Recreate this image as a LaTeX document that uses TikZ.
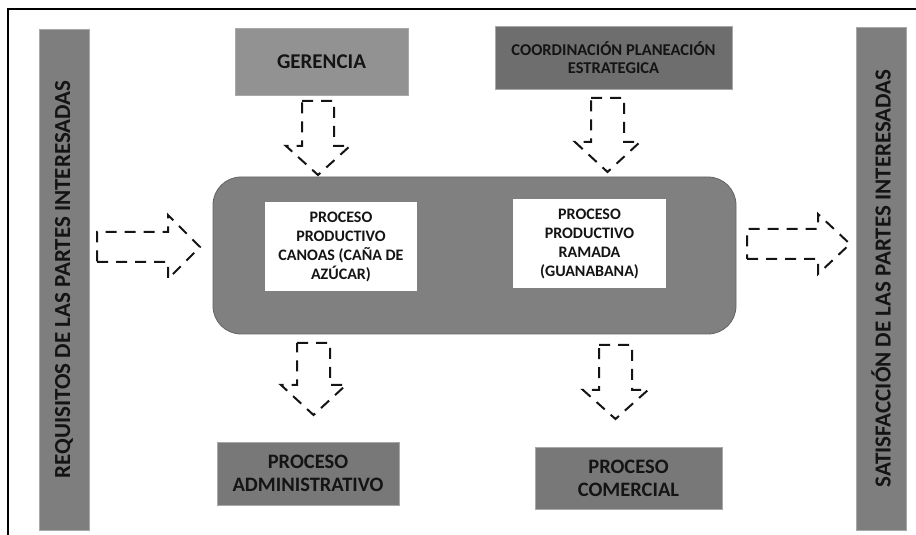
\documentclass[tikz,border=0pt]{standalone}
\usepackage{fontspec}
\setmainfont{Carlito}[BoldFont={Carlito Bold}]
\definecolor{barfill}{RGB}{126,126,126}
\definecolor{gerfill}{RGB}{146,146,146}
\definecolor{coordfill}{RGB}{110,110,110}
\definecolor{corefill}{RGB}{128,128,128}
\definecolor{lowfill}{RGB}{120,120,120}
\definecolor{edge}{RGB}{168,168,168}
\definecolor{coreedge}{RGB}{100,100,100}
\definecolor{txt}{RGB}{20,20,20}
\begin{document}
\begin{tikzpicture}[x=1pt,y=1pt,
  bar/.style={draw=edge, fill=barfill, line width=0.8pt, inner sep=0pt, rotate=90,
    minimum height=50pt, text=txt, font=\bfseries\fontsize{23}{23}\selectfont},
  gbox/.style={draw=edge, line width=0.8pt, inner sep=0pt, text=txt, align=center},
  wbox/.style={fill=white, draw=none, inner sep=0pt, text=txt, align=center,
    minimum width=152pt, minimum height=89pt, font=\bfseries\fontsize{16}{19}\selectfont},
  lowbox/.style={gbox, fill=lowfill, font=\bfseries\fontsize{20.5}{23}\selectfont},
  blockarrow/.style={draw=txt, line width=2pt, dash pattern=on 11pt off 8pt, line join=miter}]
\useasboundingbox (0,0) rectangle (916,535);
% frame
\draw[line width=1.5pt, black] (8,-10) -- (8,526);
\draw[line width=2pt, black] (7.25,526) -- (930,526);
% side bars
\node[bar, minimum width=501pt] (req) at (64,255.5) {REQUISITOS DE LAS PARTES INTERESADAS};
\node[bar, minimum width=503pt] (sat) at (881,256.5) {SATISFACCIÓN DE LAS PARTES INTERESADAS};
% top boxes
\node[gbox, fill=gerfill, minimum width=173pt, minimum height=67pt,
  font=\bfseries\fontsize{21}{24}\selectfont] (ger) at (321.5,473.5) {GERENCIA};
\node[gbox, fill=coordfill, minimum width=237pt, minimum height=63pt,
  font=\bfseries\fontsize{16.5}{18}\selectfont] (coord) at (613.5,477.5) {COORDINACIÓN PLANEACIÓN\\ESTRATEGICA};
% core
\node[draw=coreedge, fill=corefill, line width=0.8pt, rounded corners=28pt,
  minimum width=523pt, minimum height=157pt, inner sep=0pt] (core) at (474.5,279.5) {};
\node[wbox] (canoas) at (341,288.5) {PROCESO\\PRODUCTIVO\\CANOAS (CAÑA DE\\AZÚCAR)};
\node[wbox, minimum width=153pt] (ramada) at (589.5,291.5) {PROCESO\\PRODUCTIVO\\RAMADA\\(GUANABANA)};
% bottom boxes
\node[lowbox, minimum width=182pt, minimum height=63pt] (adm) at (308,61.5) {PROCESO\\ADMINISTRATIVO};
\node[lowbox, minimum width=187pt, minimum height=62pt] (com) at (628.5,57) {PROCESO\\COMERCIAL};
% block arrows
\draw[blockarrow] (97,273) -- (168,273) -- (168,256) -- (200,288) -- (168,320) -- (168,303) -- (97,303) -- cycle;
\draw[blockarrow] (747,276) -- (818,276) -- (818,261) -- (850,291) -- (818,321) -- (818,306) -- (747,306) -- cycle;
\draw[blockarrow] (302,434) -- (334,434) -- (334,389) -- (350,389) -- (318,360) -- (286,389) -- (302,389) -- cycle;
\draw[blockarrow] (591,437) -- (624,437) -- (624,393) -- (640,393) -- (607.5,363) -- (575,393) -- (591,393) -- cycle;
\draw[blockarrow] (297,192) -- (330,192) -- (330,150) -- (346,150) -- (313.5,120) -- (281,150) -- (297,150) -- cycle;
\draw[blockarrow] (599,190) -- (632,190) -- (632,145) -- (648,145) -- (615.5,116) -- (583,145) -- (599,145) -- cycle;
\end{tikzpicture}
\end{document}
